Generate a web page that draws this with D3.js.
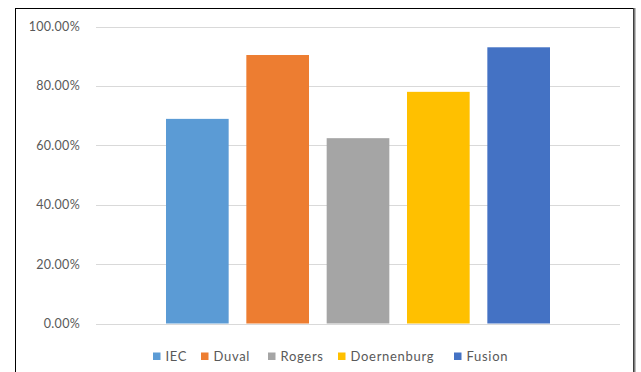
<!DOCTYPE html>
<html><head><meta charset="utf-8">
<script src="https://cdn.jsdelivr.net/npm/d3@7"></script>
<style>body{margin:0;background:#fff}svg{display:block}</style>
</head><body>
<svg id="c" width="641" height="372"></svg>
<script>
const categories = ["IEC", "Duval", "Rogers", "Doernenburg", "Fusion"];
const values = [0.689, 0.904, 0.624, 0.780, 0.930];
const colors = ["#5b9bd5", "#ed7d31", "#a5a5a5", "#ffc000", "#4472c4"];
const yTicks = [0, 0.2, 0.4, 0.6, 0.8, 1.0];

const svg = d3.select("#c");
const font = "Lato, 'Open Sans', sans-serif";

// outer frame
svg.append("rect").attr("x", 15.5).attr("y", 8.5).attr("width", 618).attr("height", 380)
  .attr("fill", "#fff").attr("stroke", "#000").attr("stroke-width", 1);
svg.append("line").attr("x1", 634.5).attr("x2", 634.5).attr("y1", 8).attr("y2", 372)
  .attr("stroke", "#7f7f7f").attr("stroke-width", 2);

const y = d3.scaleLinear().domain([0, 1]).range([323.5, 26.5]);
const x = d3.scaleBand().domain(categories).range([166, 550]).paddingInner(0.22).paddingOuter(0);

// gridlines
svg.append("g").selectAll("line").data(yTicks).join("line")
  .attr("x1", 96).attr("x2", 620)
  .attr("y1", d => Math.round(y(d)) + 0.5).attr("y2", d => Math.round(y(d)) + 0.5)
  .attr("stroke", "#d9d9d9").attr("stroke-width", 1);

// axis labels
const yAxis = d3.axisLeft(y).tickValues(yTicks).tickSize(0).tickPadding(0)
  .tickFormat(d => (d * 100).toFixed(2) + "%");
const ga = svg.append("g").attr("transform", "translate(80,0)").call(yAxis);
ga.select(".domain").remove();
ga.selectAll("text").attr("font-family", font).attr("font-size", 12.5).attr("fill", "#595959")
  .attr("letter-spacing", "0.3px");

// bars
svg.append("g").selectAll("rect").data(categories).join("rect")
  .attr("x", d => x(d)).attr("width", x.bandwidth())
  .attr("y", (d, i) => y(values[i])).attr("height", (d, i) => y(0) - y(values[i]))
  .attr("fill", (d, i) => colors[i]);

// legend
const legendX = [153, 201, 268, 338, 454];
const lg = svg.append("g");
categories.forEach((c, i) => {
  lg.append("rect").attr("x", legendX[i]).attr("y", 352.5).attr("width", 7.5).attr("height", 7.5).attr("fill", colors[i]);
  lg.append("text").attr("x", legendX[i] + 12.5).attr("y", 356).attr("dy", "0.35em")
    .attr("font-family", font).attr("font-size", 13).attr("letter-spacing", "0.7px")
    .attr("fill", "#595959").text(c);
});
</script>
</body></html>
